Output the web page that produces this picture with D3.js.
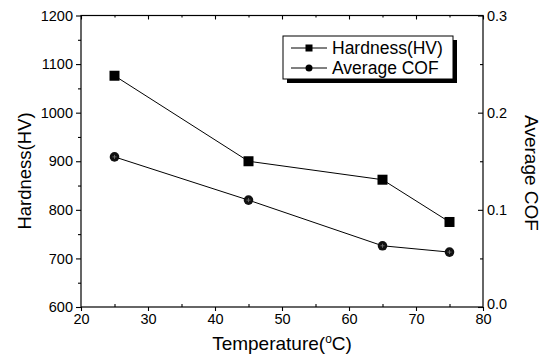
<!DOCTYPE html>
<html><head><meta charset="utf-8">
<script src="https://cdn.jsdelivr.net/npm/d3@7"></script>
<style>body{margin:0;background:#fff}svg{display:block}text{font-family:"Liberation Sans",Arial,sans-serif;fill:#000}</style>
</head><body><svg id="c" width="543" height="356"></svg>
<script>
const temperatures = [25, 45, 65, 75];
const hardness = [1076, 900, 862, 775];
const cof = [0.1545, 0.110, 0.063, 0.0565];
const xTicks = [20, 30, 40, 50, 60, 70, 80];
const yLeftTicks = [600, 700, 800, 900, 1000, 1100, 1200];
const yRightTicks = [0.0, 0.1, 0.2, 0.3];

const svg = d3.select("#c");
const L = 81, R = 483, T = 15.5, B = 307;
const x = d3.scaleLinear().domain([20, 80]).range([L, R]);
const yL = d3.scaleLinear().domain([600, 1200]).range([B, T]);
const yR = d3.scaleLinear().domain([0, 0.3]).range([B, T]);

// frame
svg.append("rect").attr("x", L).attr("y", T).attr("width", R - L).attr("height", B - T)
  .attr("fill", "none").attr("stroke", "#000").attr("stroke-width", 1.2);

function styleAxis(g){ g.select(".domain").remove(); g.selectAll("line").attr("stroke","#000").attr("stroke-width",1.1); g.selectAll("text").style("font-size","14.5px").attr("fill","#000"); }

// bottom axis
svg.append("g").attr("transform", `translate(0,${B})`)
  .call(d3.axisBottom(x).tickValues(xTicks).tickSize(4).tickPadding(2.5).tickFormat(d3.format("d"))).call(styleAxis);
svg.append("g").attr("transform", `translate(0,${B})`)
  .call(d3.axisBottom(x).tickValues(d3.range(25, 80, 10)).tickSize(-3).tickFormat("")).call(styleAxis);
// top ticks (inward)
svg.append("g").attr("transform", `translate(0,${T})`)
  .call(d3.axisBottom(x).tickValues(xTicks).tickSize(4).tickFormat("")).call(styleAxis);
svg.append("g").attr("transform", `translate(0,${T})`)
  .call(d3.axisBottom(x).tickValues(d3.range(25, 80, 10)).tickSize(2).tickFormat("")).call(styleAxis);

// left axis
svg.append("g").attr("transform", `translate(${L},0)`)
  .call(d3.axisLeft(yL).tickValues(yLeftTicks).tickSize(5).tickPadding(3).tickFormat(d3.format("d"))).call(styleAxis);
svg.append("g").attr("transform", `translate(${L},0)`)
  .call(d3.axisLeft(yL).tickValues(d3.range(650, 1200, 100)).tickSize(3).tickFormat("")).call(styleAxis);

// right axis (ticks inward, labels outside)
const rg = svg.append("g").attr("transform", `translate(${R},0)`)
  .call(d3.axisRight(yR).tickValues(yRightTicks).tickSize(-5).tickPadding(4).tickFormat(d3.format(".1f"))).call(styleAxis);
rg.selectAll("text").filter(d => d === 0).attr("dy", "0.1em");
svg.append("g").attr("transform", `translate(${R},0)`)
  .call(d3.axisRight(yR).tickValues([0.05, 0.15, 0.25]).tickSize(-3).tickFormat("")).call(styleAxis);

// axis titles
svg.append("text").attr("transform", `translate(31,171) rotate(-90)`).attr("text-anchor","middle")
  .style("font-size","18.5px").text("Hardness(HV)");
svg.append("text").attr("transform", `translate(525,173) rotate(90)`).attr("text-anchor","middle")
  .style("font-size","19px").text("Average COF");
const xt = svg.append("text").attr("x", 282).attr("y", 350).attr("text-anchor","middle").style("font-size","19px");
xt.append("tspan").text("Temperature(");
xt.append("tspan").attr("dy", -7).style("font-size","12px").text("o");
xt.append("tspan").attr("dy", 7).text("C)");

// lines
const lineH = d3.line().x((d,i)=>x(temperatures[i])).y(d=>yL(d));
const lineC = d3.line().x((d,i)=>x(temperatures[i])).y(d=>yR(d));
svg.append("path").datum(hardness).attr("d", lineH).attr("fill","none").attr("stroke","#000").attr("stroke-width",1);
svg.append("path").datum(cof).attr("d", lineC).attr("fill","none").attr("stroke","#000").attr("stroke-width",1);

svg.selectAll(".sq").data(hardness).join("rect").attr("class","sq")
  .attr("x",(d,i)=>x(temperatures[i])-5).attr("y",d=>yL(d)-5).attr("width",10).attr("height",10).attr("fill","#000");
svg.selectAll(".ci").data(cof).join("circle").attr("class","ci")
  .attr("cx",(d,i)=>x(temperatures[i])).attr("cy",d=>yR(d)).attr("r",4.8).attr("fill","#111");
svg.selectAll(".ci2").data(cof).join("path").attr("class","ci2")
  .attr("d",(d,i)=>{const cx=x(temperatures[i]),cy=yR(d);return `M${cx-2},${cy}h4M${cx},${cy-2}v4`;})
  .attr("stroke","#777").attr("stroke-width",0.8);

// legend
const lg = svg.append("g");
lg.append("rect").attr("x",287).attr("y",40).attr("width",170).attr("height",43).attr("fill","#000");
lg.append("rect").attr("x",283).attr("y",36).attr("width",170).attr("height",43).attr("fill","#fff").attr("stroke","#000").attr("stroke-width",1);
const items = [{name:"Hardness(HV)", shape:"sq", y:48},{name:"Average COF", shape:"ci", y:68}];
items.forEach(it=>{
  lg.append("line").attr("x1",291).attr("x2",327).attr("y1",it.y).attr("y2",it.y).attr("stroke","#000").attr("stroke-width",1);
  if(it.shape==="sq") lg.append("rect").attr("x",305.5).attr("y",it.y-3.5).attr("width",7).attr("height",7).attr("fill","#000");
  else lg.append("circle").attr("cx",309).attr("cy",it.y).attr("r",3.5).attr("fill","#000");
  lg.append("text").attr("x",332).attr("y",it.y+6.3).style("font-size","17.5px").text(it.name);
});
</script></body></html>
